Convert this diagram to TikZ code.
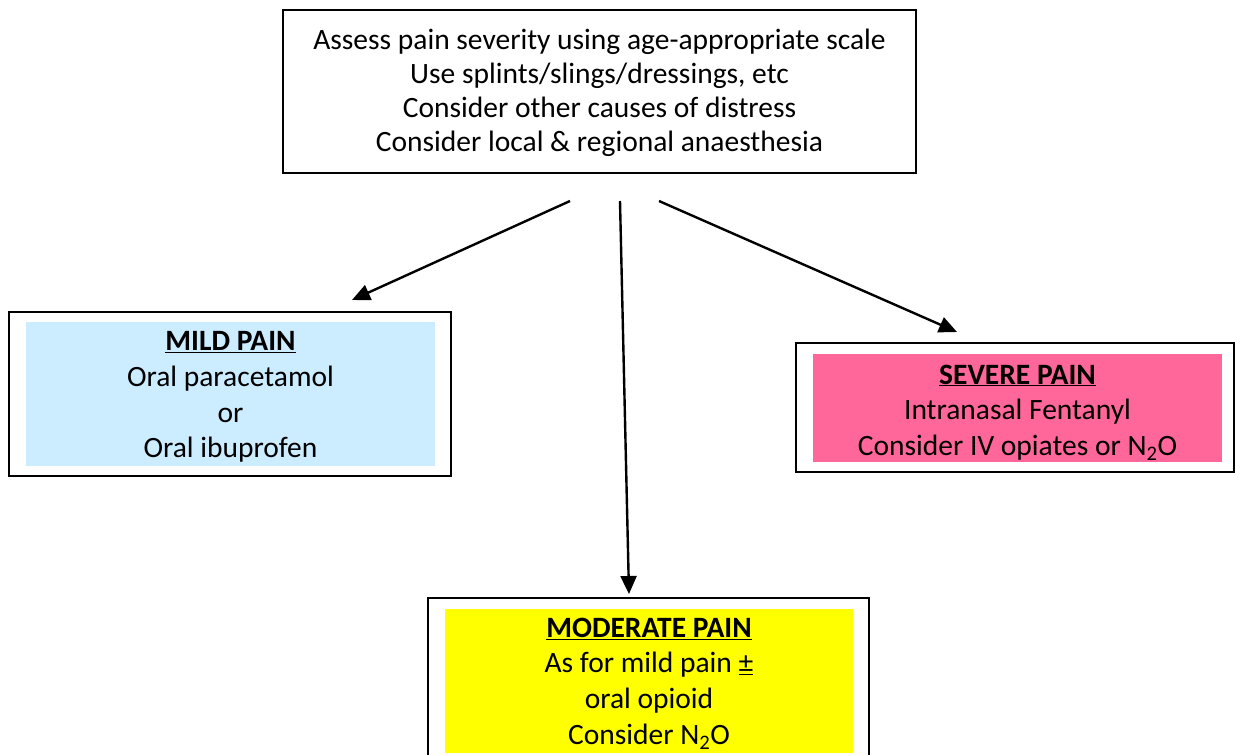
\documentclass[tikz,border=0pt]{standalone}
\usepackage{fontspec}
\setmainfont{Carlito}
\usetikzlibrary{arrows.meta}
\definecolor{mildblue}{RGB}{204,236,255}
\definecolor{severepink}{RGB}{255,102,153}
\definecolor{modyellow}{RGB}{255,255,0}
\tikzset{
  outerbox/.style={draw=black, line width=1.8pt, fill=white},
  boxtext/.style={align=center, font=\fontsize{29.5}{35.7}\selectfont, inner sep=0pt},
  toptext/.style={align=center, font=\fontsize{29.5}{34}\selectfont, inner sep=0pt},
  flowarrow/.style={line width=2.4pt, -{Triangle[length=18pt,width=16pt]}}
}
\begin{document}
\begin{tikzpicture}[x=1pt,y=-1pt]
\useasboundingbox (0,0) rectangle (1235,755);
% top box
\draw[outerbox] (283,10) rectangle (916,173);
\node[toptext] (top) at (599.5,93) {Assess pain severity using age-appropriate scale\\Use splints/slings/dressings, etc\\Consider other causes of distress\\Consider local \& regional anaesthesia};
% mild
\draw[outerbox] (9,312) rectangle (451,476);
\fill[mildblue] (26,322) rectangle (435,466);
\node[boxtext] (mild) at (230.5,397) {\textbf{\underline{MILD PAIN}}\\Oral paracetamol\\or\\Oral ibuprofen};
% severe
\draw[outerbox] (796,343) rectangle (1234,472);
\fill[severepink] (813,354) rectangle (1222,462);
\node[boxtext] (severe) at (1017.5,412.5) {\textbf{\underline{SEVERE PAIN}}\\Intranasal Fentanyl\\Consider IV opiates or N\textsubscript{2}O};
% moderate
\draw[outerbox] (428,757) -- (428,598) -- (869,598) -- (869,757);
\fill[modyellow] (445,609) rectangle (853,753);
\node[boxtext] (moderate) at (649,683.5) {\textbf{\underline{MODERATE PAIN}}\\As for mild pain \underline{±}\\oral opioid\\Consider N\textsubscript{2}O};
% arrows
\coordinate (sL) at (570,201);
\coordinate (sM) at (620,201);
\coordinate (sR) at (659,201);
\coordinate (tL) at (352,300);
\coordinate (tM) at (629,594);
\coordinate (tR) at (957,332);
\draw[flowarrow] (sL) -- (tL);
\draw[flowarrow] (sM) -- (tM);
\draw[flowarrow] (sR) -- (tR);
\end{tikzpicture}
\end{document}
